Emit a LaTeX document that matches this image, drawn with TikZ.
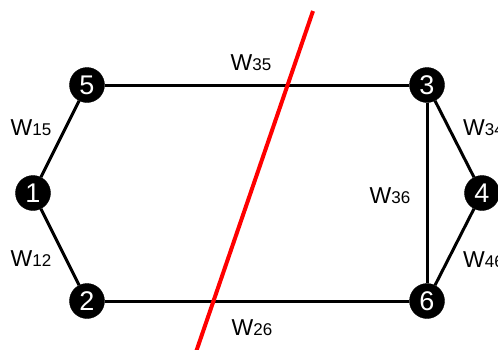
\documentclass[tikz,border=0pt]{standalone}
\usepackage{fontspec}
\setmainfont{Liberation Sans}
\begin{document}
\begin{tikzpicture}[x=1pt,y=-1pt,
  vertex/.style={circle,fill=black,draw=black,minimum size=35pt,inner sep=0pt,
    text=white,font=\fontsize{27}{27}\selectfont},
  edge/.style={line width=3pt,black},
  cut/.style={line width=4pt,red},
  weight/.style={font=\fontsize{23}{23}\selectfont,inner sep=0pt}]
\useasboundingbox (0,0) rectangle (498,349);
% vertices
\node[vertex] (n5) at (87,85) {5};
\node[vertex] (n3) at (427,85) {3};
\node[vertex] (n1) at (33,193) {1};
\node[vertex] (n4) at (482,193) {4};
\node[vertex] (n2) at (87,301) {2};
\node[vertex] (n6) at (427,301) {6};
% edges
\draw[edge] (n5) -- (n3);
\draw[edge] (n2) -- (n6);
\draw[edge] (n1) -- (n5);
\draw[edge] (n1) -- (n2);
\draw[edge] (n3) -- (n6);
\draw[edge] (n3) -- (n4);
\draw[edge] (n4) -- (n6);
% edge weights
\newcommand{\wlab}[1]{W{\fontsize{17}{17}\selectfont#1}}
\node[weight] (w15) at (31,128) {\wlab{15}};
\node[weight] (w12) at (31,259) {\wlab{12}};
\node[weight] (w35) at (251,63) {\wlab{35}};
\node[weight] (w26) at (252,328) {\wlab{26}};
\node[weight] (w36) at (390,196) {\wlab{36}};
\node[weight,anchor=west] (w34) at (463,128) {\wlab{34}};
\node[weight,anchor=west] (w46) at (463,260) {\wlab{46}};
% cut line
\coordinate (ctop) at (313,11);
\coordinate (cbot) at (196,352);
\draw[cut] (ctop) -- (cbot);
\end{tikzpicture}
\end{document}
